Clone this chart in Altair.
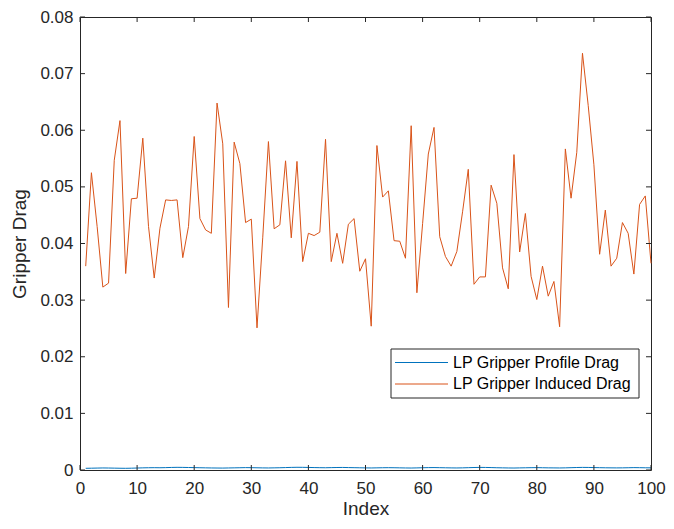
import altair as alt
import pandas as pd

index = list(range(1, 101))

induced_drag = [
    0.0360, 0.0525, 0.0430, 0.0323, 0.0330, 0.0547, 0.0617, 0.0347, 0.0479, 0.0480,
    0.0586, 0.0430, 0.0339, 0.0427, 0.0477, 0.0476, 0.0477, 0.0375, 0.0430, 0.0589,
    0.0444, 0.0424, 0.0418, 0.0648, 0.0576, 0.0287, 0.0579, 0.0541, 0.0437, 0.0443,
    0.0251, 0.0410, 0.0580, 0.0426, 0.0433, 0.0546, 0.0410, 0.0545, 0.0368, 0.0418,
    0.0414, 0.0420, 0.0584, 0.0368, 0.0418, 0.0365, 0.0434, 0.0444, 0.0351, 0.0373,
    0.0254, 0.0573, 0.0482, 0.0493, 0.0405, 0.0404, 0.0374, 0.0608, 0.0313, 0.0435,
    0.0558, 0.0605, 0.0412, 0.0377, 0.0360, 0.0386, 0.0456, 0.0531, 0.0328, 0.0341,
    0.0341, 0.0503, 0.0471, 0.0357, 0.0320, 0.0557, 0.0385, 0.0453, 0.0342, 0.0301,
    0.0360, 0.0307, 0.0333, 0.0253, 0.0567, 0.0480, 0.0561, 0.0736, 0.0644, 0.0539,
    0.0381, 0.0459, 0.0360, 0.0374, 0.0437, 0.0418, 0.0346, 0.0469, 0.0484, 0.0365,
]

profile_drag = [
    0.00030, 0.00032, 0.00034, 0.00036, 0.00035, 0.00033, 0.00031, 0.00030, 0.00032, 0.00035,
    0.00038, 0.00040, 0.00041, 0.00040, 0.00042, 0.00045, 0.00047, 0.00046, 0.00044, 0.00042,
    0.00040, 0.00038, 0.00036, 0.00035, 0.00034, 0.00036, 0.00038, 0.00040, 0.00042, 0.00041,
    0.00039, 0.00037, 0.00036, 0.00038, 0.00040, 0.00043, 0.00046, 0.00048, 0.00047, 0.00045,
    0.00043, 0.00041, 0.00040, 0.00042, 0.00044, 0.00045, 0.00043, 0.00041, 0.00039, 0.00037,
    0.00036, 0.00038, 0.00040, 0.00041, 0.00040, 0.00038, 0.00036, 0.00035, 0.00037, 0.00040,
    0.00042, 0.00043, 0.00041, 0.00039, 0.00037, 0.00036, 0.00038, 0.00041, 0.00044, 0.00046,
    0.00045, 0.00043, 0.00040, 0.00038, 0.00036, 0.00035, 0.00037, 0.00039, 0.00041, 0.00042,
    0.00040, 0.00038, 0.00037, 0.00036, 0.00038, 0.00041, 0.00044, 0.00046, 0.00045, 0.00043,
    0.00041, 0.00039, 0.00038, 0.00037, 0.00038, 0.00040, 0.00042, 0.00041, 0.00039, 0.00038,
]

series_names = ["LP Gripper Profile Drag", "LP Gripper Induced Drag"]
series_colors = ["#0072BD", "#D95319"]

x_ticks = [0, 10, 20, 30, 40, 50, 60, 70, 80, 90, 100]
y_ticks = [0, 0.01, 0.02, 0.03, 0.04, 0.05, 0.06, 0.07, 0.08]

W, H = 571, 453
TICK = 5
FONT = "Liberation Sans"
GRAY = "#262626"

df = pd.DataFrame({
    "Index": index * 2,
    "Drag": profile_drag + induced_drag,
    "Series": [series_names[0]] * len(index) + [series_names[1]] * len(index),
    "order": list(range(len(index))) + list(range(len(index))),
})

xscale = alt.Scale(domain=[0, 100], nice=False, zero=False)
yscale = alt.Scale(domain=[0, 0.08], nice=False)
cscale = alt.Scale(domain=series_names, range=series_colors)

lines = alt.Chart(df).mark_line(strokeWidth=1).encode(
    x=alt.X("Index:Q", scale=xscale,
            axis=alt.Axis(values=x_ticks, title="Index", ticks=False, domain=False,
                          grid=False, labelFontSize=17, labelFont=FONT, labelColor=GRAY,
                          labelPadding=10, labelFlush=False, labelOverlap=False,
                          titleFontSize=19, titleFont=FONT,
                          titleColor=GRAY, titleFontWeight="normal", titlePadding=3)),
    y=alt.Y("Drag:Q", scale=yscale,
            axis=alt.Axis(values=y_ticks, format="~g", title="Gripper Drag", ticks=False,
                          domain=False, grid=False, labelFontSize=17, labelFont=FONT,
                          labelColor=GRAY, labelPadding=7, labelFlush=False,
                          labelOverlap=False, titleFontSize=19,
                          titleFont=FONT, titleColor=GRAY, titleFontWeight="normal",
                          titlePadding=10)),
    color=alt.Color("Series:N", scale=cscale, legend=None),
    detail="Series:N",
    order="order:Q",
)

# legend (drawn manually, MATLAB style box)
LX0, LX1, LY0, LY1 = 311, 559, 332, 381
leg_rows = [345.5, 367]
box = alt.Chart(pd.DataFrame({"a": [0]})).mark_rect(
    fill="white", stroke=GRAY, strokeWidth=1).encode(
    x=alt.value(LX0), x2=alt.value(LX1), y=alt.value(LY0), y2=alt.value(LY1))

leg_layers = []
for name, color, ry in zip(series_names, series_colors, leg_rows):
    ld = pd.DataFrame({"Series": [name]})
    leg_layers.append(alt.Chart(ld).mark_rule(strokeWidth=1).encode(
        x=alt.value(LX0 + 4), x2=alt.value(LX0 + 57), y=alt.value(ry),
        color=alt.Color("Series:N", scale=cscale, legend=None)))
    leg_layers.append(alt.Chart(ld).mark_text(
        align="left", baseline="middle", fontSize=16, font=FONT, color="#000000").encode(
        x=alt.value(LX0 + 62), y=alt.value(ry), text="Series:N"))

xt = pd.DataFrame({"v": x_ticks})
yt = pd.DataFrame({"v": y_ticks})

x_bottom = alt.Chart(xt).mark_rule(color=GRAY, strokeWidth=1).encode(
    x=alt.X("v:Q", scale=xscale), y=alt.value(H), y2=alt.value(H - TICK))
x_top = alt.Chart(xt).mark_rule(color=GRAY, strokeWidth=1).encode(
    x=alt.X("v:Q", scale=xscale), y=alt.value(0), y2=alt.value(TICK))
y_left = alt.Chart(yt).mark_rule(color=GRAY, strokeWidth=1).encode(
    y=alt.Y("v:Q", scale=yscale), x=alt.value(0), x2=alt.value(TICK))
y_right = alt.Chart(yt).mark_rule(color=GRAY, strokeWidth=1).encode(
    y=alt.Y("v:Q", scale=yscale), x=alt.value(W), x2=alt.value(W - TICK))

chart = alt.layer(lines, box, *leg_layers, x_bottom, x_top, y_left, y_right).properties(
    width=W, height=H,
    autosize=alt.AutoSizeParams(type="none"),
    padding={"left": 72, "top": 9, "right": 15, "bottom": 51},
    background="white",
).configure_view(
    stroke=GRAY, strokeWidth=1
)

chart.save("out.html", embed_options={"renderer": "svg", "actions": False})
